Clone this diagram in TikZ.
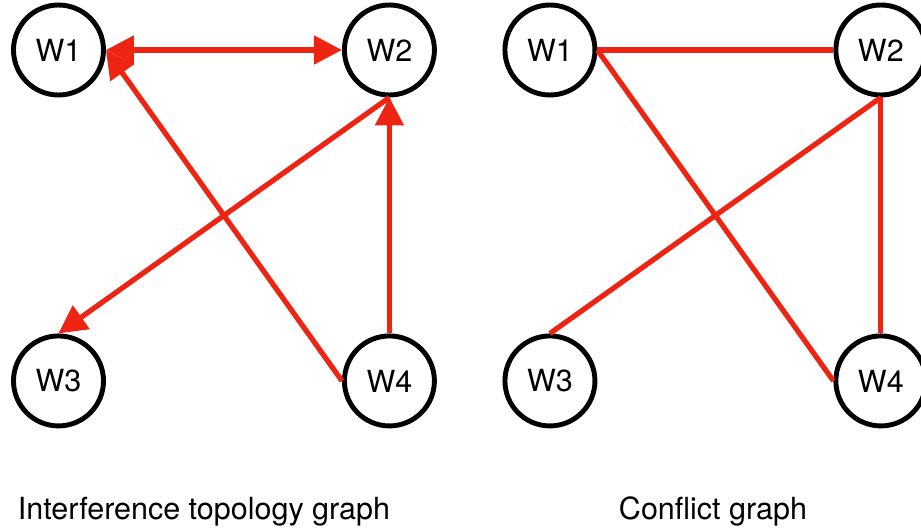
\documentclass[tikz,border=0pt]{standalone}
\usepackage{fontspec}
\setmainfont{TeX Gyre Heros}
\usetikzlibrary{positioning}
\usetikzlibrary{arrows.meta}
\definecolor{wf-red}{HTML}{EE2412}

\begin{document}
\begin{tikzpicture}[
    node distance=5.9cm, % gap between station circles
    font=\fontsize{21.7}{26}\selectfont,
    >={Triangle[length=0.7cm, width=0.7cm]}
  ]

  % Global Style Definitions
  \tikzset{
    station/.style={draw, circle, line width=3.5pt, minimum size=2.25cm, inner sep=0pt},
    link/.style={draw=wf-red, line width=3.7pt}
  }

  \useasboundingbox (-1.4625,1.25) rectangle (21.5625,-12.025);

  % Interference topology graph
  \node (lw1) [station] {W1};
  \node (lw2) [station, right=of lw1] {W2};
  \node (lw3) [station, below=of lw1] {W3};
  \node (lw4) [station, below=of lw2] {W4};

  \draw[<->, link] (lw1.east) -- (lw2.west);
  \draw[->, link] (lw4.west) -- (lw1.east);
  \draw[->, link] (lw4.north) -- (lw2.south);
  \draw[->, link] (lw2.south) -- (lw3.north);

  % Conflict graph
  \node (rw1) [station, right=1.64cm of lw2] {W1};
  \node (rw2) [station, right=of rw1] {W2};
  \node (rw3) [station, below=of rw1] {W3};
  \node (rw4) [station, below=of rw2] {W4};

  \draw[link] (rw1.east) -- (rw2.west);
  \draw[link] (rw1.east) -- (rw4.west);
  \draw[link] (rw2.south) -- (rw3.north);
  \draw[link] (rw2.south) -- (rw4.north);

  % Captions
  \node (lcap) [anchor=base] at (3.6375,-11.725) {Interference topology graph};
  \node (rcap) [anchor=base] at (16.3625,-11.725) {Conflict graph};

\end{tikzpicture}
\end{document}
